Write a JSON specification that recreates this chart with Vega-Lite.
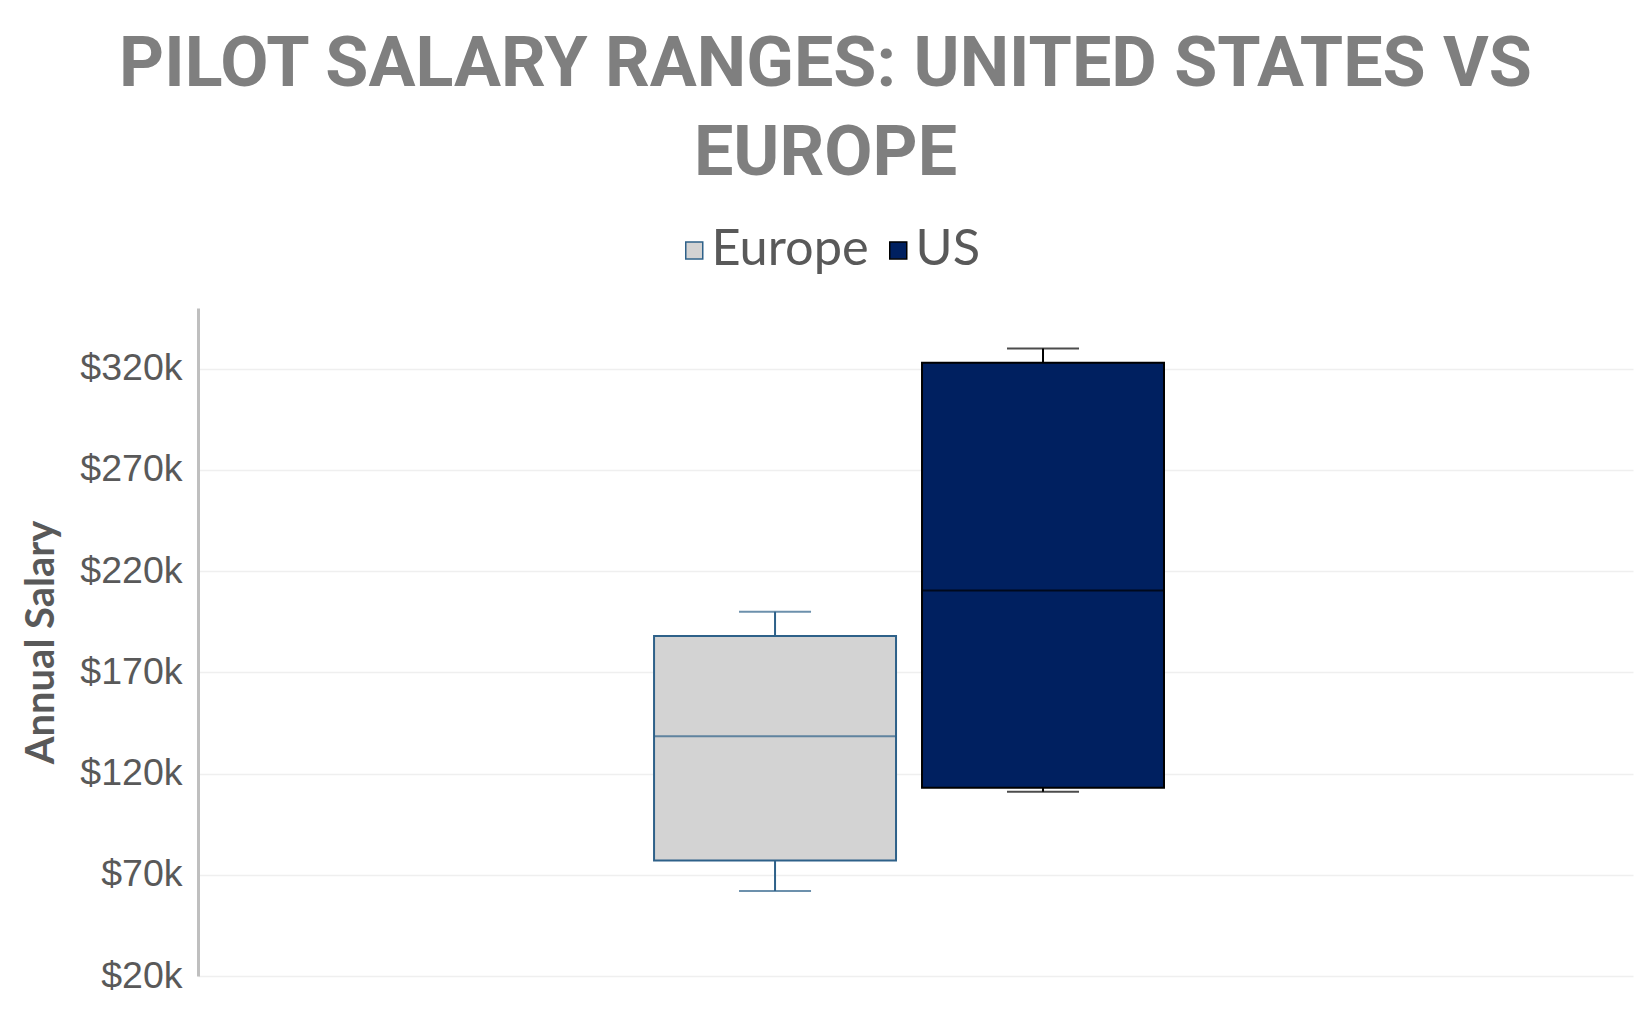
{
  "$schema": "https://vega.github.io/schema/vega-lite/v6.json",
  "autosize": {"type": "none"},
  "width": 1435,
  "height": 668,
  "padding": {"left": 198, "top": 308, "right": 17, "bottom": 38},
  "background": "white",
  "config": {"view": {"stroke": null}},
  "title": {
    "text": ["PILOT SALARY RANGES: UNITED STATES VS", "EUROPE"],
    "anchor": "middle",
    "frame": "group",
    "dx": -90,
    "font": "Roboto",
    "fontSize": 70,
    "fontWeight": "bold",
    "color": "#7F7F7F",
    "lineHeight": 89,
    "offset": 35
  },
  "data": {
    "values": [
      {"series": "Europe", "min": 62000, "q1": 77000, "median": 138500, "q3": 188000, "max": 200000},
      {"series": "US", "min": 111000, "q1": 113000, "median": 210500, "q3": 323000, "max": 330000}
    ]
  },
  "encoding": {
    "x": {
      "datum": "Annual Salary",
      "type": "nominal",
      "axis": null,
      "scale": {"paddingInner": 0, "paddingOuter": 0.907, "align": 0.493}
    },
    "xOffset": {
      "field": "series",
      "type": "nominal",
      "scale": {"paddingInner": 0.097, "paddingOuter": 0}
    }
  },
  "layer": [
    {
      "mark": {"type": "rule", "strokeWidth": 2},
      "encoding": {
        "y": {
          "field": "min",
          "type": "quantitative",
          "scale": {"domain": [20000, 350000], "nice": false, "zero": false},
          "axis": {
            "title": "Annual Salary",
            "values": [20000, 70000, 120000, 170000, 220000, 270000, 320000],
            "labelExpr": "'$' + (datum.value / 1000) + 'k'",
            "labelFont": "Liberation Sans",
            "labelFontSize": 37.5,
            "labelColor": "#595959",
            "labelPadding": 16,
            "ticks": false,
            "grid": true,
            "gridColor": "#EFEFEF",
            "gridWidth": 1.5,
            "domainColor": "#BFBFBF",
            "domainWidth": 3,
            "titleFont": "Lato",
            "titleFontWeight": "bold",
            "titleFontSize": 40,
            "titleColor": "#595959",
            "titlePadding": 18
          }
        },
        "y2": {"field": "max"},
        "color": {
          "field": "series",
          "type": "nominal",
          "scale": {"domain": ["US", "Europe"], "range": ["#000000", "#2E6189"]},
          "legend": null
        }
      }
    },
    {
      "mark": {"type": "bar", "strokeWidth": 2},
      "encoding": {
        "y": {"field": "q1", "type": "quantitative"},
        "y2": {"field": "q3"},
        "fill": {
          "field": "series",
          "type": "nominal",
          "scale": {"domain": ["Europe", "US"], "range": ["#D3D3D3", "#002060"]},
          "legend": {
            "orient": "none",
            "legendX": 471,
            "legendY": -83,
            "direction": "horizontal",
            "title": null,
            "symbolType": "square",
            "symbolSize": 289,
            "symbolStrokeWidth": 1.5,
            "labelFont": "Lato",
            "labelFontSize": 50.5,
            "labelColor": "#595959",
            "labelOffset": -8,
            "columnPadding": 4,
            "padding": 0
          }
        },
        "stroke": {
          "field": "series",
          "type": "nominal",
          "scale": {"domain": ["Europe", "US"], "range": ["#2E6189", "#000000"]},
          "legend": {
            "orient": "none",
            "legendX": 471,
            "legendY": -83,
            "direction": "horizontal",
            "title": null,
            "symbolType": "square",
            "symbolSize": 289,
            "symbolStrokeWidth": 1.5,
            "labelFont": "Lato",
            "labelFontSize": 50.5,
            "labelColor": "#595959",
            "labelOffset": -8,
            "columnPadding": 4,
            "padding": 0
          }
        }
      }
    },
    {
      "mark": {"type": "tick", "thickness": 2, "size": 242},
      "encoding": {
        "y": {"field": "median", "type": "quantitative"},
        "color": {"field": "series", "type": "nominal", "legend": null}
      }
    },
    {
      "mark": {"type": "tick", "thickness": 2, "size": 72},
      "encoding": {
        "y": {"field": "min", "type": "quantitative"},
        "color": {"field": "series", "type": "nominal", "legend": null}
      }
    },
    {
      "mark": {"type": "tick", "thickness": 2, "size": 72},
      "encoding": {
        "y": {"field": "max", "type": "quantitative"},
        "color": {"field": "series", "type": "nominal", "legend": null}
      }
    }
  ]
}
